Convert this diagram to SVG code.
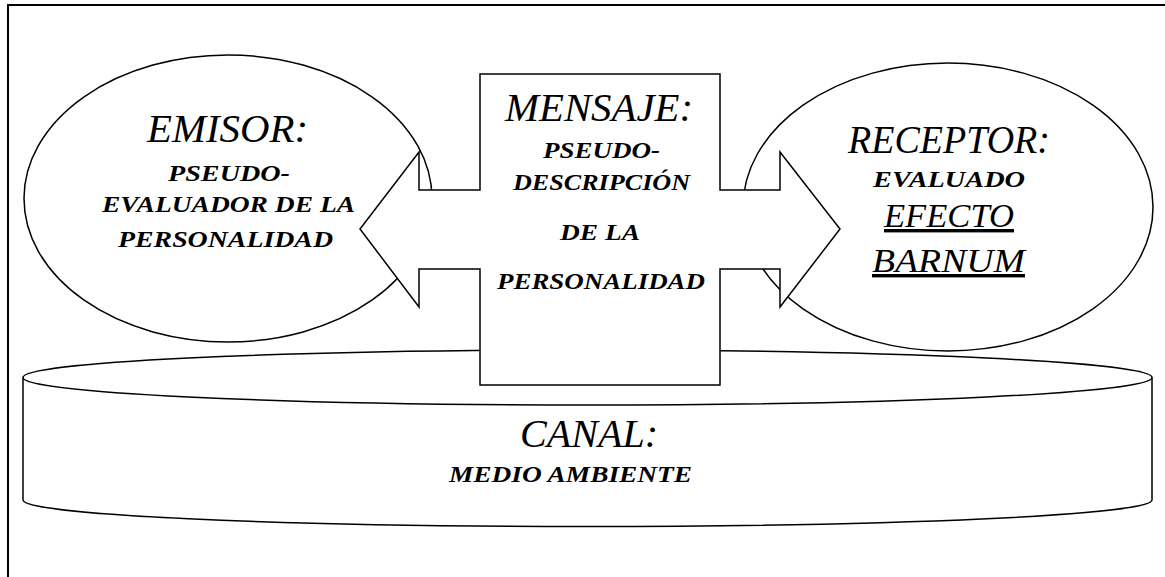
<svg xmlns="http://www.w3.org/2000/svg" width="1165" height="577" viewBox="0 0 1165 577">
<style>
  .shape { fill: #ffffff; stroke: #000000; stroke-width: 1.5; stroke-linejoin: miter; }
  .edge { fill: none; stroke: #000000; stroke-width: 1.5; }
  .frame { fill: none; stroke: #000000; stroke-width: 2; }
  text { font-family: "Liberation Serif", "DejaVu Serif", serif; font-style: italic; fill: #000000; }
  .title { font-size: 40px; }
  .sub { font-size: 24px; font-weight: bold; }
  .big { font-size: 34px; text-decoration: underline; }
</style>
<rect x="0" y="0" width="1165" height="577" fill="#ffffff"/>
<g id="frame">
  <path class="frame" d="M 8 577 L 8 5 L 1165 5"/>
</g>
<g id="canal">
  <path class="shape" d="M 23 377.5 A 564.5 27.5 0 0 1 1152 377.5 L 1152 500 A 564.5 26.5 0 0 1 23 500 Z"/>
  <path class="edge" d="M 23 377.5 A 564.5 27.5 0 0 0 1152 377.5"/>
</g>
<g id="emisor">
  <ellipse class="shape" cx="228" cy="198.5" rx="204" ry="143.5"/>
</g>
<g id="receptor">
  <ellipse class="shape" cx="948" cy="207" rx="205" ry="144"/>
</g>
<g id="connectors"/>
<g id="mensaje">
  <polygon class="shape" points="480,74 720,74 720,190 780,190 780,152 840,229 780,307 780,269 720,269 720,385 480,385 480,269 419,269 419,307 360,229 419,152 419,190 480,190"/>
</g>
<g id="labels">
  <text class="title" x="147" y="142" textLength="161" lengthAdjust="spacingAndGlyphs">EMISOR:</text>
  <text class="sub" x="168" y="181" textLength="122" lengthAdjust="spacingAndGlyphs">PSEUDO-</text>
  <text class="sub" x="102" y="212" textLength="253" lengthAdjust="spacingAndGlyphs">EVALUADOR DE LA</text>
  <text class="sub" x="118" y="247" textLength="215" lengthAdjust="spacingAndGlyphs">PERSONALIDAD</text>

  <text class="title" x="505" y="121" textLength="188" lengthAdjust="spacingAndGlyphs">MENSAJE:</text>
  <text class="sub" x="543" y="158" textLength="117" lengthAdjust="spacingAndGlyphs">PSEUDO-</text>
  <text class="sub" x="513" y="190" textLength="177" lengthAdjust="spacingAndGlyphs">DESCRIPCIÓN</text>
  <text class="sub" x="560" y="240" textLength="80" lengthAdjust="spacingAndGlyphs">DE LA</text>
  <text class="sub" x="497" y="289" textLength="208" lengthAdjust="spacingAndGlyphs">PERSONALIDAD</text>

  <text class="title" x="848" y="153" textLength="202" lengthAdjust="spacingAndGlyphs">RECEPTOR:</text>
  <text class="sub" x="873" y="187" textLength="152" lengthAdjust="spacingAndGlyphs">EVALUADO</text>
  <text class="big" x="884" y="227" textLength="130" lengthAdjust="spacingAndGlyphs">EFECTO</text>
  <text class="big" x="872" y="272" textLength="153" lengthAdjust="spacingAndGlyphs">BARNUM</text>

  <text class="title" x="520" y="447" textLength="138" lengthAdjust="spacingAndGlyphs">CANAL:</text>
  <text class="sub" x="449" y="482" textLength="243" lengthAdjust="spacingAndGlyphs">MEDIO AMBIENTE</text>
</g>
</svg>
